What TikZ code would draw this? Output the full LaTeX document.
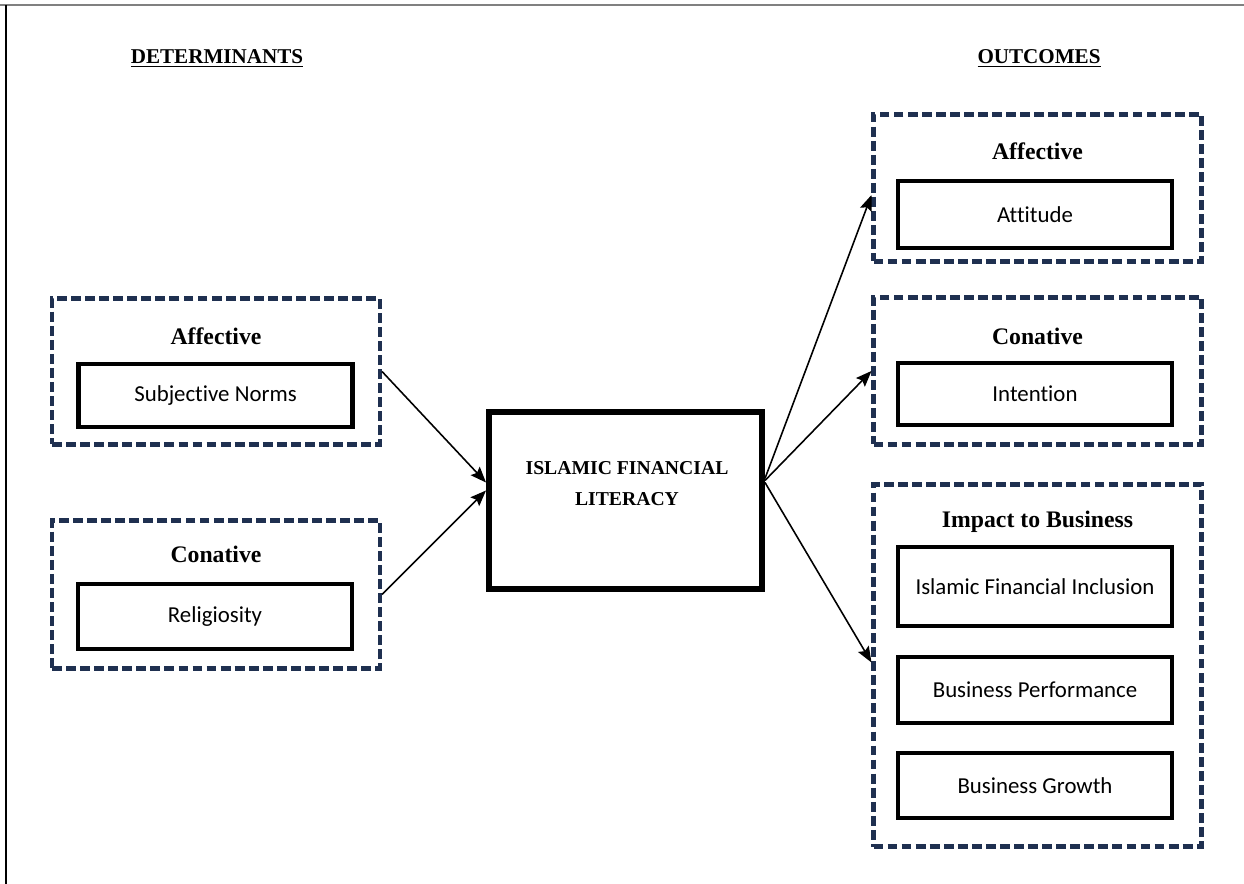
\documentclass[tikz,border=0pt]{standalone}
\usepackage{fontspec}
\setmainfont{Liberation Serif}
\newfontfamily\bodyfont[Ligatures=NoCommon]{Carlito}
\usetikzlibrary{arrows.meta,calc}
\definecolor{navy}{HTML}{1F3050}

\begin{document}
\begin{tikzpicture}[x=0.02cm, y=-0.02cm,
  group/.style={draw=navy, line width=2.3pt, dash pattern=on 5.6pt off 2.4pt, minimum width=328*0.02cm, inner sep=0pt},
  item/.style={draw, line width=2.4pt, minimum width=274*0.02cm, inner sep=0pt, font=\bodyfont\fontsize{13}{15}\selectfont},
  head/.style={font=\bfseries\fontsize{13.5}{15}\selectfont, anchor=base},
  title/.style={font=\bfseries\fontsize{12}{14}\selectfont, anchor=base},
  link/.style={-{Stealth[length=9pt, width=7pt, inset=1.5pt]}, line width=0.9pt}]
\useasboundingbox (0,0) rectangle (1244,884);
\draw[gray, line width=1.4pt] (0,5) -- (1244,5);
\draw[line width=1.3pt] (6,5) -- (6,884);
\node[title] (detT) at (217,64) {\underline{DETERMINANTS}};
\node[title] (outT) at (1039,64) {\underline{OUTCOMES}};
\node[group, minimum height=146*0.02cm] (L1box) at (216,371.5) {};
\node[head] (L1head) at (216,345) {Affective};
\node[item, minimum height=63*0.02cm] (L1in) at (215.5,395.5) {Subjective Norms};
\node[group, minimum height=148*0.02cm] (L2box) at (216,594.5) {};
\node[head] (L2head) at (216,563) {Conative};
\node[item, minimum height=65*0.02cm] (L2in) at (215,616.5) {Religiosity};
\node[draw, line width=3.4pt, minimum width=273*0.02cm, minimum height=177*0.02cm] (ifl) at (625.5,500.5) {};
\node[font=\bfseries\fontsize{11.2}{17.6}\selectfont, align=center] (iflT) at (627,484) {ISLAMIC FINANCIAL\\LITERACY};
\node[group, minimum height=147*0.02cm] (RAbox) at (1037.5,188) {};
\node[head] (RAhead) at (1037.5,160) {Affective};
\node[item, minimum height=67*0.02cm] (RAin) at (1035,214.5) {Attitude};
\node[group, minimum height=147*0.02cm] (RCbox) at (1037.5,371) {};
\node[head] (RChead) at (1037.5,345) {Conative};
\node[item, minimum height=62*0.02cm] (RCin) at (1035,394) {Intention};
\node[group, minimum height=362*0.02cm] (RIbox) at (1037.5,665.5) {};
\node[head] (RIhead) at (1037.5,528) {Impact to Business};
\node[item, minimum height=79*0.02cm] (RI1) at (1035,586.5) {Islamic Financial Inclusion};
\node[item, minimum height=66*0.02cm] (RI2) at (1035,690) {Business Performance};
\node[item, minimum height=65*0.02cm] (RI3) at (1035,785.5) {Business Growth};
\draw[link] (L1box.east) -- ($(ifl.west)+(0,-18)$);
\draw[link] (L2box.east) -- ($(ifl.west)+(0,-10)$);
\draw[link] ($(ifl.east)+(0,-22)$) -- ($(RAbox.west)+(0,7)$);
\draw[link] ($(ifl.east)+(0,-20)$) -- (RCbox.west);
\draw[link] ($(ifl.east)+(0,-18)$) -- ($(RIbox.west)+(0,-3)$);
\end{tikzpicture}
\end{document}
